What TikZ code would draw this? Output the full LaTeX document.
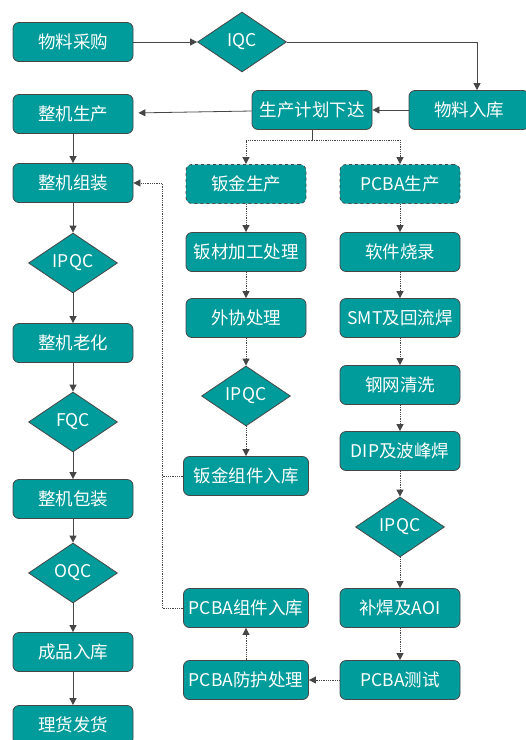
\documentclass[tikz,border=0pt]{standalone}
\usepackage{fontspec}
\setmainfont{Noto Sans CJK SC}
\usetikzlibrary{shapes.geometric,arrows.meta}
\definecolor{boxfill}{RGB}{0,155,155}
\definecolor{edge}{RGB}{70,70,70}
\begin{document}
\begin{tikzpicture}[x=1pt,y=-1pt,
  box/.style={shape=rectangle,draw=edge,fill=boxfill,rounded corners=6pt,line width=0.8pt,
    minimum width=120pt,minimum height=39pt,inner sep=0pt,text=white,font=\fontsize{17.5}{20}\selectfont},
  dbox/.style={box,dashed},
  chk/.style={shape=diamond,draw=edge,fill=boxfill,line width=0.8pt,aspect=1.5,inner sep=0pt,
    minimum width=89pt,minimum height=60pt,text=white,font=\fontsize{17.5}{20}\selectfont},
  flow/.style={draw=edge,line width=0.8pt,-{Triangle[length=7pt,width=7pt]}},
  dflow/.style={flow,densely dotted}
]
  \useasboundingbox (0,0) rectangle (526,740);
  % left column
  \node[box] (cg)    at (73,42)  {物料采购};
  \node[chk] (iqc)   at (242,42) {IQC};
  \node[box] (ruku)  at (469,110) {物料入库};
  \node[box] (jihua) at (312,110) {生产计划下达};
  \node[box] (zjsc)  at (73,114) {整机生产};
  \node[box] (zjzz)  at (73,183) {整机组装};
  \node[chk] (ipqc1) at (73,263) {IPQC};
  \node[box] (lh)    at (73,343) {整机老化};
  \node[chk] (fqc)   at (73,422) {FQC};
  \node[box] (bz)    at (73,499) {整机包装};
  \node[chk] (oqc)   at (73,573) {OQC};
  \node[box] (rk)    at (73,652) {成品入库};
  \node[box] (fh)    at (73,725) {理货发货};
  % sheet metal
  \node[dbox] (bjsc) at (246,184) {钣金生产};
  \node[box] (bcjg)  at (246,252) {钣材加工处理};
  \node[box] (wx)    at (246,318) {外协处理};
  \node[chk] (ipqc2) at (246,396) {IPQC};
  \node[box,minimum width=125pt] (bjrk) at (246,476) {钣金组件入库};
  % pcba
  \node[dbox] (pcbasc) at (400,184) {PCBA生产};
  \node[box] (rj)    at (400,252) {软件烧录};
  \node[box] (smt)   at (400,318) {SMT及回流焊};
  \node[box] (gw)    at (400,385) {钢网清洗};
  \node[box] (dip)   at (400,451) {DIP及波峰焊};
  \node[chk] (ipqc3) at (400,527) {IPQC};
  \node[box] (bh)    at (400,608) {补焊及AOI};
  \node[box] (cs)    at (400,680) {PCBA测试};
  \node[box,minimum width=125pt] (fhcl) at (246,680) {PCBA防护处理};
  \node[box,minimum width=125pt] (zjrk) at (246,608) {PCBA组件入库};
  \coordinate (split) at (312,140);
  \coordinate (bus) at (162,0);
  \coordinate (drop) at (477,0);

  \draw[flow] (cg) -- (iqc);
  \draw[flow] (iqc.east) -| (ruku.north -| drop);
  \draw[flow] (ruku) -- (jihua);
  \draw[flow,shorten >=5pt] (jihua) -- (zjsc);
  \draw[flow] (zjsc) -- (zjzz);
  \draw[flow] (zjzz) -- (ipqc1);
  \draw[flow] (ipqc1) -- (lh);
  \draw[flow] (lh) -- (fqc);
  \draw[flow] (fqc) -- (bz);
  \draw[flow] (bz) -- (oqc);
  \draw[flow] (oqc) -- (rk);
  \draw[flow] (rk) -- (fh);

  \draw[draw=edge,line width=0.8pt] (jihua.south) -- (split);
  \draw[dflow] (split) -| (bjsc.north);
  \draw[dflow] (split) -| (pcbasc.north);
  \draw[dflow] (bjsc) -- (bcjg);
  \draw[dflow] (bcjg) -- (wx);
  \draw[dflow] (wx) -- (ipqc2);
  \draw[dflow] (ipqc2) -- (bjrk);
  \draw[dflow] (pcbasc) -- (rj);
  \draw[dflow] (rj) -- (smt);
  \draw[dflow] (smt) -- (gw);
  \draw[dflow] (gw) -- (dip);
  \draw[dflow] (dip) -- (ipqc3);
  \draw[dflow] (ipqc3) -- (bh);
  \draw[dflow] (bh) -- (cs);
  \draw[dflow] (cs) -- (fhcl);
  \draw[dflow] (fhcl) -- (zjrk);
  \draw[draw=edge,line width=0.8pt,densely dotted] (bjrk.west) -- (bjrk.west -| bus);
  \draw[dflow] (zjrk.west) -- (zjrk.west -| bus) |- (zjzz.east);
\end{tikzpicture}
\end{document}
